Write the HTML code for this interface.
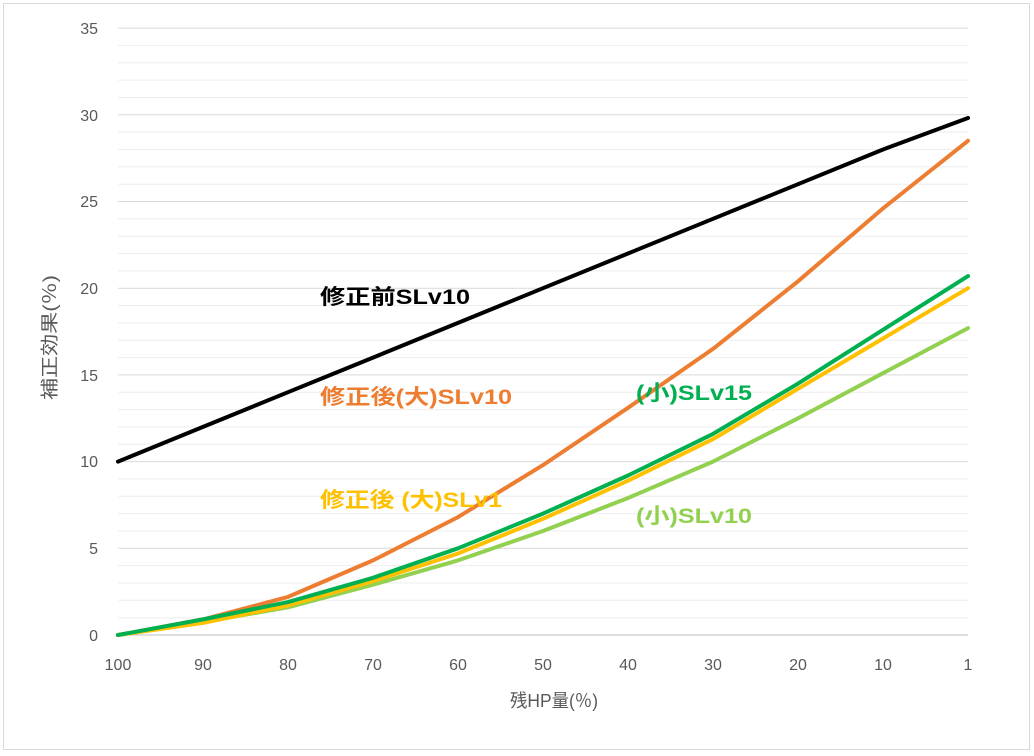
<!DOCTYPE html>
<html><head><meta charset="utf-8"><style>
html,body{margin:0;padding:0;background:#fff;}
svg{display:block;font-family:"Liberation Sans","Noto Sans CJK JP",sans-serif;}
</style></head><body>
<svg width="1034" height="756" viewBox="0 0 1034 756">
<rect x="3.5" y="3.5" width="1026" height="746" fill="#fff" stroke="#d9d9d9"/>
<g stroke="#eeeeee" stroke-width="1">
<path d="M118 617.7H968M118 600.3H968M118 583H968M118 565.6H968M118 531H968M118 513.6H968M118 496.3H968M118 478.9H968M118 444.3H968M118 426.9H968M118 409.6H968M118 392.2H968M118 357.6H968M118 340.2H968M118 322.9H968M118 305.5H968M118 270.9H968M118 253.5H968M118 236.2H968M118 218.8H968M118 184.2H968M118 166.8H968M118 149.5H968M118 132.1H968M118 97.5H968M118 80.1H968M118 62.8H968M118 45.4H968"/>
</g>
<g stroke="#d9d9d9" stroke-width="1">
<path d="M118 548.3H968M118 461.6H968M118 374.9H968M118 288.2H968M118 201.5H968M118 114.8H968M118 28.1H968"/>
</g>
<line x1="118" y1="635" x2="968" y2="635" stroke="#bfbfbf"/>
<g font-size="16" fill="#595959" text-anchor="end">
<text x="98" y="641">0</text><text x="98" y="554">5</text><text x="98" y="467">10</text><text x="98" y="381">15</text><text x="98" y="294">20</text><text x="98" y="207">25</text><text x="98" y="121">30</text><text x="98" y="34">35</text>
</g>
<g font-size="16" fill="#595959" text-anchor="middle">
<text x="118" y="670">100</text><text x="203" y="670">90</text><text x="288" y="670">80</text><text x="373" y="670">70</text><text x="458" y="670">60</text><text x="543" y="670">50</text><text x="628" y="670">40</text><text x="713" y="670">30</text><text x="798" y="670">20</text><text x="883" y="670">10</text><text x="968" y="670">1</text>
</g>
<text x="510" y="707" font-size="18" fill="#595959" textLength="88" lengthAdjust="spacingAndGlyphs">残HP量(％)</text>
<text transform="translate(56,400) rotate(-90)" font-size="18" fill="#595959" textLength="125" lengthAdjust="spacingAndGlyphs">補正効果(％)</text>
<g fill="none" stroke-width="4" stroke-linejoin="round" stroke-linecap="round">
<polyline stroke="#000" points="118,461.6 203,426.9 288,392.2 373,357.6 458,322.9 543,288.2 628,253.5 713,218.8 798,184.2 883,149.5 968,118"/>
<polyline stroke="#ed7d31" points="118,635 203,619.4 288,596.9 373,560.4 458,517.1 543,465.1 628,407.8 713,348.9 798,281.3 883,208.4 968,140.8"/>
<polyline stroke="#92d050" points="118,635 203,622 288,607.3 373,584.7 458,560.4 543,531 628,498 713,461.6 798,418.3 883,373.2 968,328.1"/>
<polyline stroke="#ffc000" points="118,635 203,622.9 288,605.5 373,581.2 458,553.5 543,518.8 628,480.7 713,439.1 798,388.8 883,338.5 968,288.2"/>
<polyline stroke="#00b050" points="118,635 203,619.4 288,602.1 373,577.8 458,548.3 543,513.6 628,475.5 713,433.9 798,383.6 883,329.8 968,276.1"/>
</g>
<g font-size="21" font-weight="bold" lengthAdjust="spacingAndGlyphs">
<text x="320" y="304" fill="#000" textLength="150" lengthAdjust="spacingAndGlyphs">修正前SLv10</text>
<text x="320" y="404" fill="#ed7d31" textLength="192" lengthAdjust="spacingAndGlyphs">修正後(大)SLv10</text>
<text x="320" y="507" fill="#ffc000" textLength="182" lengthAdjust="spacingAndGlyphs">修正後 (大)SLv1</text>
<text x="636" y="400" fill="#00b050" textLength="116" lengthAdjust="spacingAndGlyphs">(小)SLv15</text>
<text x="636" y="523" fill="#92d050" textLength="116" lengthAdjust="spacingAndGlyphs">(小)SLv10</text>
</g>
</svg>
</body></html>
